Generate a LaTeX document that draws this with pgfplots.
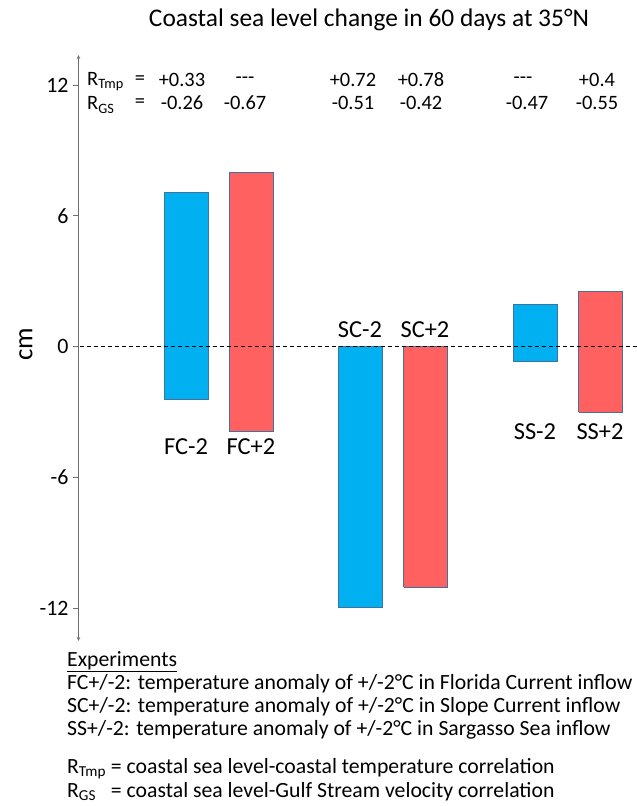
\documentclass[border=0pt]{standalone}
\usepackage{fontspec}
\setmainfont{Carlito}
\usepackage{pgfplots}
\pgfplotsset{compat=1.18}
\usetikzlibrary{arrows.meta}
\definecolor{barblue}{RGB}{0,176,240}
\definecolor{barred}{RGB}{255,96,96}
\definecolor{barline}{RGB}{65,113,156}
\definecolor{axgray}{RGB}{110,110,110}
\newlength{\rw}

\begin{document}
\begin{tikzpicture}
\path[use as bounding box] (0,0) rectangle (637bp,806bp);

\begin{axis}[
  at={(78.5bp,165bp)}, anchor=south west,
  scale only axis, width=558.5bp, height=586bp,
  xmin=78.5, xmax=637, ymin=-13.495, ymax=13.385, clip=false,
  axis x line=none, axis y line*=left,
  y axis line style={axgray, line width=1bp, {Stealth[length=4bp,width=3.5bp]}-{Stealth[length=4bp,width=3.5bp]}},
  ytick={-12,-6,0,6,12}, yticklabels={-12,-6,0,6,12},
  tick align=outside, major tick length=5.5bp,
  ytick style={axgray, line width=1bp},
  yticklabel style={font=\fontsize{22}{22}\selectfont, xshift=-1bp},
  every axis plot/.append style={line width=1bp, line join=miter},
]
% floating bars: x = bar edges (px), y = lower and upper end of the change (cm)
% FC-2
\addplot[fill=barblue, draw=barline] coordinates {(164,-2.41) (164,7.07) (208,7.07) (208,-2.41) (164,-2.41)};
% FC+2
\addplot[fill=barred, draw=barline] coordinates {(229.5,-3.89) (229.5,7.99) (273.5,7.99) (273.5,-3.89) (229.5,-3.89)};
% SC-2
\addplot[fill=barblue, draw=barline] coordinates {(338.5,-11.97) (338.5,0) (382,0) (382,-11.97) (338.5,-11.97)};
% SC+2
\addplot[fill=barred, draw=barline] coordinates {(403.5,-11.03) (403.5,0) (447.5,0) (447.5,-11.03) (403.5,-11.03)};
% SS-2
\addplot[fill=barblue, draw=barline] coordinates {(513.5,-0.68) (513.5,1.96) (557,1.96) (557,-0.68) (513.5,-0.68)};
% SS+2
\addplot[fill=barred, draw=barline] coordinates {(578.5,-3.00) (578.5,2.53) (622.5,2.53) (622.5,-3.00) (578.5,-3.00)};
% zero line
\addplot[black, line width=0.8bp, dash pattern=on 4bp off 3bp] coordinates {(79.5,0) (637,0)};
\end{axis}

\begin{scope}[x=1bp, y=-1bp, shift={(0,-806)}]
% title and axis label
\node[font=\fontsize{25.5}{28}\selectfont] at (369,20) {Coastal sea level change in 60 days at 35°N};
\node[font=\fontsize{27}{30}\selectfont, rotate=90] at (26,344) {cm};

% correlation rows
\begin{scope}[every node/.style={font=\fontsize{20.5}{24}\selectfont, inner sep=0pt}]
\node[anchor=west] at (87,82) {R\textsubscript{Tmp}};
\node[anchor=west] at (87,105) {R\textsubscript{GS}};
\node at (140,80) {=};
\node at (140,103) {=};
\node at (182,80) {+0.33};
\node at (245,80) {-{}-{}-};
\node at (353,80) {+0.72};
\node at (421,80) {+0.78};
\node at (523,80) {-{}-{}-};
\node at (597,80) {+0.4};
\node at (182,103) {-0.26};
\node at (245,103) {-0.67};
\node at (353,103) {-0.51};
\node at (421,103) {-0.42};
\node at (527,103) {-0.47};
\node at (597,103) {-0.55};
\end{scope}

% bar labels
\begin{scope}[every node/.style={font=\fontsize{24.5}{28}\selectfont, inner sep=0pt}]
\node at (186,447) {FC-2};
\node at (251,447) {FC+2};
\node at (360,330) {SC-2};
\node at (425,330) {SC+2};
\node at (535,432) {SS-2};
\node at (600,432) {SS+2};
\end{scope}

% notes
\begin{scope}[every node/.style={font=\fontsize{21.8}{24}\selectfont, inner sep=0pt, anchor=west}]
\node at (67,662) {\underline{Experiments}};
\node at (67,684) {FC+/-2: temperature anomaly of +/-2°C in Florida Current inflow};
\node at (67,707) {SC+/-2: temperature anomaly of +/-2°C in Slope Current inflow};
\node at (67,730) {SS+/-2: temperature anomaly of +/-2°C in Sargasso Sea inflow};
\node at (67,769) {R\textsubscript{Tmp} = coastal sea level-coastal temperature correlation};
\node at (67,792) {\settowidth{\rw}{R\textsubscript{Tmp}}\makebox[\rw][l]{R\textsubscript{GS}} = coastal sea level-Gulf Stream velocity correlation};
\end{scope}
\end{scope}
\end{tikzpicture}
\end{document}
